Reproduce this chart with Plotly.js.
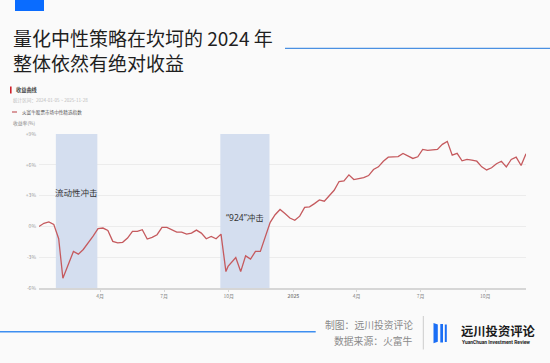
<!DOCTYPE html>
<html>
<head>
<meta charset="utf-8">
<script src="https://cdn.plot.ly/plotly-3.0.1.min.js"></script>
<style>
html,body{margin:0;padding:0;background:#fafafa;}
#chart{width:550px;height:363px;}
</style>
</head>
<body>
<div id="chart"></div>
<script>
// ---- data ----
const dates = [
 '2024-01-05','2024-01-12','2024-01-19','2024-01-26','2024-02-02','2024-02-08',
 '2024-02-23','2024-03-01','2024-03-08','2024-03-15','2024-03-22','2024-03-29',
 '2024-04-05','2024-04-12','2024-04-19','2024-04-26','2024-05-03','2024-05-10',
 '2024-05-17','2024-05-24','2024-05-31','2024-06-07','2024-06-14','2024-06-21',
 '2024-06-28','2024-07-05','2024-07-12','2024-07-19','2024-07-26','2024-08-02',
 '2024-08-09','2024-08-16','2024-08-23','2024-08-30','2024-09-06','2024-09-13',
 '2024-09-20','2024-09-27','2024-09-30','2024-10-11','2024-10-18','2024-10-25',
 '2024-11-01','2024-11-08','2024-11-15','2024-11-22','2024-11-29','2024-12-06',
 '2024-12-13','2024-12-20','2024-12-27','2025-01-03','2025-01-10','2025-01-17',
 '2025-01-24','2025-01-31','2025-02-07','2025-02-14','2025-02-21','2025-02-28',
 '2025-03-07','2025-03-14','2025-03-21','2025-03-28','2025-04-04','2025-04-11',
 '2025-04-18','2025-04-25','2025-05-02','2025-05-09','2025-05-16','2025-05-23',
 '2025-05-30','2025-06-06','2025-06-13','2025-06-20','2025-06-27','2025-07-04',
 '2025-07-11','2025-07-18','2025-07-25','2025-08-01','2025-08-08','2025-08-15',
 '2025-08-22','2025-08-29','2025-09-05','2025-09-12','2025-09-19','2025-09-26',
 '2025-10-03','2025-10-10','2025-10-17','2025-10-24','2025-10-31','2025-11-07',
 '2025-11-14','2025-11-21','2025-11-28'
];
const returns = [
 0.00, 0.30, 0.43, 0.20, -1.20, -5.05,
 -2.44, -2.70, -2.25, -1.65, -0.95, -0.22,
 -0.16, -0.39, -1.46, -1.60, -1.55, -1.14,
 -0.49, -0.49, -0.32, -1.23, -1.07, -0.81,
 -0.10, -0.10, -0.32, -0.55, -0.55, -0.75,
 -0.65, -0.36, -0.65, -1.20, -0.98, -1.20,
 -0.75, -4.40, -3.90, -3.03, -4.40, -2.87,
 -3.19, -2.44, -2.44, -0.98, 0.40, 1.14,
 1.65, 1.25, 0.82, 0.59, 1.00, 1.85,
 1.90, 2.22, 2.58, 2.45, 3.00, 3.52,
 4.37, 4.44, 5.02, 4.56, 4.65, 4.75,
 4.95, 5.54, 5.80, 6.35, 6.74, 6.78,
 6.80, 7.11, 6.85, 6.62, 6.78, 7.50,
 7.40, 7.45, 7.50, 7.99, 8.28, 6.94,
 7.11, 6.39, 6.52, 6.45, 6.35, 5.80,
 5.50, 5.71, 6.10, 6.35, 5.80, 6.52,
 6.74, 5.93, 7.08
];
const seriesName = '火富牛股票市场中性精选指数';
const shockStarts = ['2024-01-29', '2024-09-19'];
const shockEnds   = ['2024-03-28', '2024-11-28'];
const shockLabels = ['流动性冲击', '“924”冲击'];
const shockLabelY = [3.35, 0.9];
const yTickVals  = [9, 6, 3, 0, -3, -6];
const yTickText  = ['+9%', '+6%', '+3%', '0%', '-3%', '-6%'];
const xTickVals  = ['2024-04-01','2024-07-01','2024-10-01','2025-01-01','2025-04-01','2025-07-01','2025-10-01'];
const xTickText  = ['4月','7月','10月','<b>2025</b>','4月','7月','10月'];

// ---- layout helpers (pixel -> paper) ----
const L = 39, R = 526, T = 134, B = 288;
const px = x => (x - L) / (R - L);
const py = y => (B - y) / (B - T);
const CJK = '"Noto Sans CJK SC", "Noto Sans", sans-serif';
const LATIN_FIRST = '"Noto Sans", "Noto Sans CJK SC", sans-serif';

function txt(text, x, y, size, color, xanchor, extra) {
  return Object.assign({
    text: text, xref: 'paper', yref: 'paper', x: px(x), y: py(y),
    xanchor: xanchor || 'left', yanchor: 'middle', showarrow: false,
    font: {family: CJK, size: size, color: color}
  }, extra || {});
}
function rect(x0, y0, x1, y1, color) {
  return {type: 'rect', xref: 'paper', yref: 'paper', x0: px(x0), x1: px(x1),
    y0: py(y1), y1: py(y0), fillcolor: color, line: {width: 0}, layer: 'above'};
}
function line(x0, y0, x1, y1, color, w) {
  return {type: 'line', xref: 'paper', yref: 'paper', x0: px(x0), x1: px(x1),
    y0: py(y0), y1: py(y1), line: {color: color, width: w}, layer: 'above'};
}

const shapes = [];
const annotations = [];

shockStarts.forEach((s, i) => {
  shapes.push({type: 'rect', xref: 'x', yref: 'y', x0: s, x1: shockEnds[i],
    y0: -6, y1: 9, fillcolor: '#d4deef', line: {width: 0}, layer: 'between'});
  annotations.push({text: shockLabels[i], xref: 'x', yref: 'y',
    x: new Date((new Date(s).getTime() + new Date(shockEnds[i]).getTime()) / 2).toISOString().slice(0,10),
    y: shockLabelY[i], showarrow: false, xanchor: 'center', yanchor: 'middle',
    font: {family: LATIN_FIRST, size: 8.5, color: '#333'}});
});

// header
shapes.push(rect(15, 0, 44, 11, '#0a6cff'));
shapes.push(line(285, 48.3, 550, 48.3, '#4a90e2', 1.2));
annotations.push(txt('量化中性策略在坎坷的 2024 年<br>整体依然有绝对收益', 11, 49.5, 19, '#1f1f1f', 'left', {align: 'left'}));

// chart card header
shapes.push(rect(10, 86.5, 11.6, 93.5, '#d0202a'));
annotations.push(txt('<b>收益曲线</b>', 13.5, 90, 5.2, '#444'));
annotations.push(txt('统计区间：2024-01-05 ~ 2025-11-28', 11, 100.5, 4.6, '#bbbbbb'));
shapes.push(line(12, 112, 17, 112, '#c55a5e', 1.2));
annotations.push(txt(seriesName, 19.5, 112, 4.6, '#555'));
annotations.push(txt('收益率(%)', 11, 122.7, 4.8, '#888'));

// footer
shapes.push(line(0, 331.7, 315.7, 331.7, '#3d8ef0', 1.5));
annotations.push(txt('制图：远川投资评论', 415, 325, 9.8, '#8a8a8a', 'right'));
annotations.push(txt('数据来源：火富牛', 415, 340.5, 9.8, '#8a8a8a', 'right'));
shapes.push(line(423.3, 316, 423.3, 349.5, '#cccccc', 1));
shapes.push({type: 'path', xref: 'paper', yref: 'paper',
  path: `M ${px(433.5)},${py(323)} L ${px(437.8)},${py(324.5)} L ${px(437.8)},${py(341.8)} L ${px(433.5)},${py(343.3)} Z`,
  fillcolor: '#1a6ef5', line: {width: 0}, layer: 'above'});
shapes.push(rect(440.3, 324, 443, 342.5, '#1a6ef5'));
shapes.push(rect(444.8, 324.5, 446.8, 342, '#1a6ef5'));
annotations.push(txt('<b>远川投资评论</b>', 460, 331, 12.3, '#1a1a1a', 'left', {borderpad: 0}));
annotations.push(txt('<b>YuanChuan Investment Review</b>', 460.5, 341.8, 4.9, '#222', 'left',
  {borderpad: 0, font: {family: 'Roboto, "DejaVu Sans", sans-serif', size: 4.9, color: '#222'}}));

const trace = {
  x: dates, y: returns, type: 'scatter', mode: 'lines', name: seriesName,
  line: {color: '#c55a5e', width: 1.3}, hoverinfo: 'skip', showlegend: false
};

const layout = {
  width: 550, height: 363, autosize: false,
  margin: {l: L, r: 550 - R, t: T, b: 363 - B, pad: 0},
  paper_bgcolor: '#fafafa', plot_bgcolor: '#fafafa',
  showlegend: false,
  xaxis: {
    type: 'date', range: ['2024-01-05', '2025-11-28'],
    tickvals: xTickVals, ticktext: xTickText,
    showgrid: false, zeroline: false,
    showline: true, linecolor: '#d6d6d6', linewidth: 2,
    ticks: 'outside', ticklen: 2, tickcolor: '#d6d6d6',
    tickfont: {family: CJK, size: 5, color: '#888'}
  },
  yaxis: {
    range: [-6, 9], tickvals: yTickVals, ticktext: yTickText,
    showgrid: true, gridcolor: '#ececec', gridwidth: 1,
    zeroline: false, showline: false, ticks: '',
    tickfont: {family: CJK, size: 5, color: '#999'},
    ticklabelstandoff: 2
  },
  shapes: shapes,
  annotations: annotations
};

Plotly.newPlot('chart', [trace], layout, {displayModeBar: false, staticPlot: true});
</script>
</body>
</html>
